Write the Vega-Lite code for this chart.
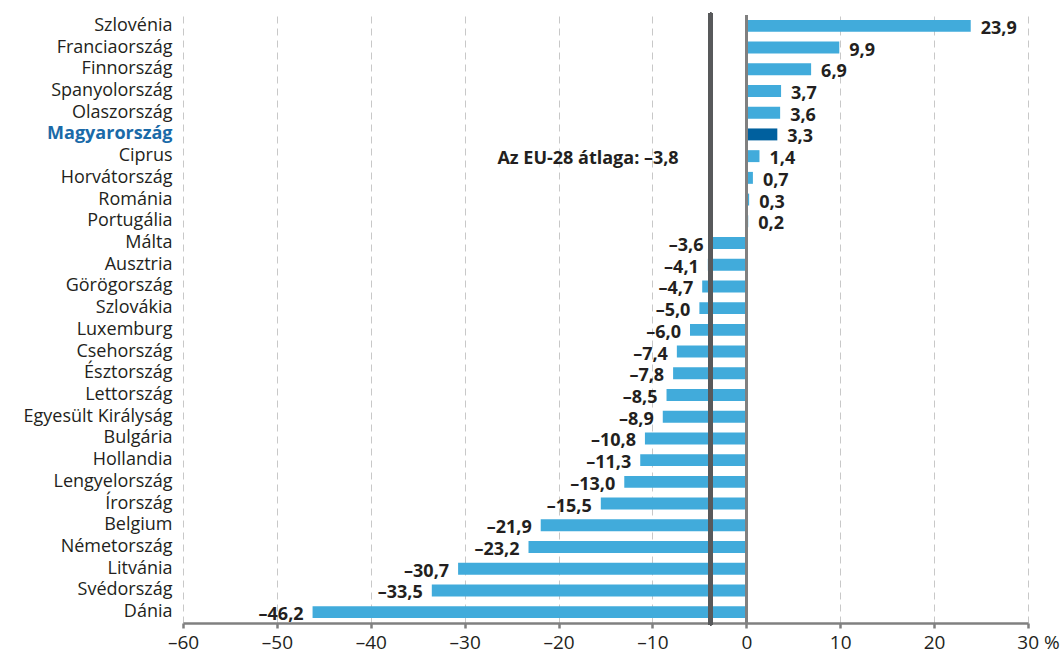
{
  "$schema": "https://vega.github.io/schema/vega-lite/v6.json",
  "width": 845,
  "height": 608,
  "autosize": {"type": "none"},
  "padding": {"left": 183, "top": 15, "right": 33, "bottom": 37},
  "config": {
    "view": {"stroke": null},
    "font": "Open Sans",
    "locale": {"number": {"decimal": ",", "thousands": " ", "grouping": [3], "currency": ["", ""], "minus": "–"}}
  },
  "data": {"values": [
    {"country": "Szlovénia", "value": 23.9, "hu": false},
    {"country": "Franciaország", "value": 9.9, "hu": false},
    {"country": "Finnország", "value": 6.9, "hu": false},
    {"country": "Spanyolország", "value": 3.7, "hu": false},
    {"country": "Olaszország", "value": 3.6, "hu": false},
    {"country": "Magyarország", "value": 3.3, "hu": true},
    {"country": "Ciprus", "value": 1.4, "hu": false},
    {"country": "Horvátország", "value": 0.7, "hu": false},
    {"country": "Románia", "value": 0.3, "hu": false},
    {"country": "Portugália", "value": 0.2, "hu": false},
    {"country": "Málta", "value": -3.6, "hu": false},
    {"country": "Ausztria", "value": -4.1, "hu": false},
    {"country": "Görögország", "value": -4.7, "hu": false},
    {"country": "Szlovákia", "value": -5.0, "hu": false},
    {"country": "Luxemburg", "value": -6.0, "hu": false},
    {"country": "Csehország", "value": -7.4, "hu": false},
    {"country": "Észtország", "value": -7.8, "hu": false},
    {"country": "Lettország", "value": -8.5, "hu": false},
    {"country": "Egyesült Királyság", "value": -8.9, "hu": false},
    {"country": "Bulgária", "value": -10.8, "hu": false},
    {"country": "Hollandia", "value": -11.3, "hu": false},
    {"country": "Lengyelország", "value": -13.0, "hu": false},
    {"country": "Írország", "value": -15.5, "hu": false},
    {"country": "Belgium", "value": -21.9, "hu": false},
    {"country": "Németország", "value": -23.2, "hu": false},
    {"country": "Litvánia", "value": -30.7, "hu": false},
    {"country": "Svédország", "value": -33.5, "hu": false},
    {"country": "Dánia", "value": -46.2, "hu": false}
  ]},
  "layer": [
    {
      "mark": {"type": "bar"},
      "encoding": {
        "y": {
          "field": "country", "type": "nominal", "sort": null,
          "scale": {"paddingInner": 0.45, "paddingOuter": 0.225},
          "axis": {
            "title": null, "domain": false, "ticks": false, "grid": false,
            "labelFontSize": 18, "labelPadding": 11,
            "labelColor": {"condition": {"test": "datum.value == 'Magyarország'", "value": "#1a6aa8"}, "value": "#231f20"},
            "labelFontWeight": {"condition": {"test": "datum.value == 'Magyarország'", "value": "bold"}, "value": "normal"}
          }
        },
        "x": {
          "field": "value", "type": "quantitative",
          "scale": {"domain": [-60, 30], "nice": false, "zero": false},
          "axis": {
            "title": null, "values": [-60, -50, -40, -30, -20, -10, 0, 10, 20, 30],
            "format": "d",
            "labelExpr": "datum.value == 30 ? datum.label + ' %' : datum.label",
            "labelOffset": {"condition": {"test": "datum.value == 30", "value": 10}, "value": 0},
            "labelFontSize": 19, "labelColor": "#231f20", "labelPadding": 5,
            "labelFlush": false, "labelOverlap": false, "labelBound": false,
            "domainColor": "#808080", "domainWidth": 2.5,
            "tickColor": "#808080", "tickWidth": 2.5, "tickSize": 5,
            "grid": true, "gridColor": "#c8c8c8", "gridDash": [7, 5], "gridWidth": 1
          }
        },
        "color": {
          "field": "hu", "type": "nominal",
          "scale": {"domain": [false, true], "range": ["#41abdb", "#00609e"]},
          "legend": null
        }
      }
    },
    {
      "mark": {"type": "rule", "color": "#808080", "strokeWidth": 2.5},
      "encoding": {"x": {"datum": 0}}
    },
    {
      "mark": {"type": "rule", "color": "#58595b", "strokeWidth": 4.5, "strokeCap": "round"},
      "encoding": {"x": {"datum": -3.8}}
    },
    {
      "transform": [{"filter": "datum.value >= 0"}],
      "mark": {"type": "text", "align": "left", "baseline": "middle", "dx": 10, "dy": 3, "fontSize": 18, "fontWeight": "bold", "color": "#231f20"},
      "encoding": {
        "y": {"field": "country", "type": "nominal", "sort": null},
        "x": {"field": "value", "type": "quantitative"},
        "text": {"field": "value", "type": "quantitative", "format": ".1f"}
      }
    },
    {
      "transform": [{"filter": "datum.value < 0"}],
      "mark": {"type": "text", "align": "right", "baseline": "middle", "dx": -9, "dy": 3, "fontSize": 18, "fontWeight": "bold", "color": "#231f20"},
      "encoding": {
        "y": {"field": "country", "type": "nominal", "sort": null},
        "x": {"field": "value", "type": "quantitative"},
        "text": {"field": "value", "type": "quantitative", "format": ".1f"}
      }
    },
    {
      "data": {"values": [{"country": "Ciprus", "value": -3.8, "label": "Az EU-28 átlaga: –3,8"}]},
      "mark": {"type": "text", "align": "right", "baseline": "middle", "dx": -32, "dy": 3, "fontSize": 18, "fontWeight": "bold", "color": "#231f20"},
      "encoding": {
        "y": {"field": "country", "type": "nominal", "sort": null},
        "x": {"field": "value", "type": "quantitative"},
        "text": {"field": "label", "type": "nominal"}
      }
    }
  ]
}
